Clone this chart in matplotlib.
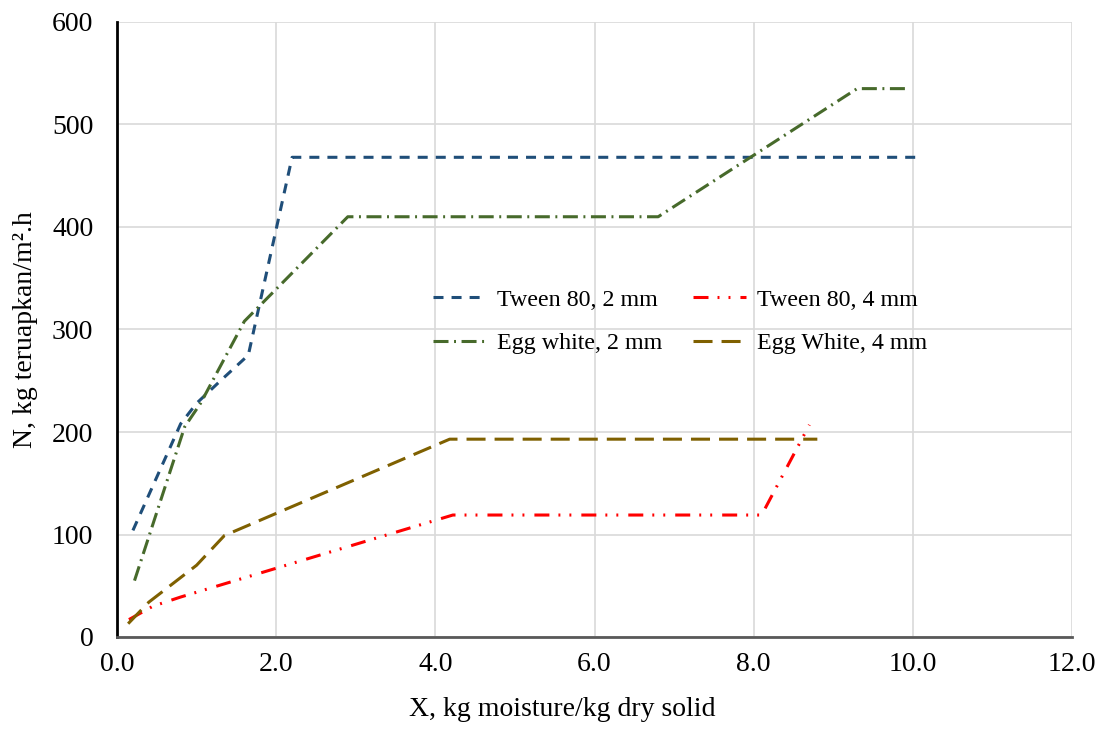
import matplotlib
matplotlib.use("Agg")
import matplotlib.pyplot as plt

plt.rcParams['font.family'] = ['Liberation Serif', 'DejaVu Serif']
plt.rcParams['lines.scale_dashes'] = False

# data
x_t2 = [0.2, 0.8, 1.0, 1.3, 1.65, 2.2, 10.1]
n_t2 = [104, 208, 228, 250, 275, 468, 468]

x_t4 = [0.15, 0.45, 0.8, 4.22, 8.1, 8.7]
n_t4 = [17, 30, 39, 119, 119, 207]

x_e2 = [0.22, 0.85, 1.05, 1.6, 2.9, 6.8, 9.3, 9.95]
n_e2 = [55, 205, 228, 308, 410, 410, 535, 535]

x_e4 = [0.14, 0.4, 1.0, 1.35, 4.18, 8.8]
n_e4 = [13, 34, 70, 99, 193, 193]

labels = ["Tween 80, 2 mm", "Tween 80, 4 mm", "Egg white, 2 mm", "Egg White, 4 mm"]
xticks = [0, 2, 4, 6, 8, 10, 12]
yticks = [0, 100, 200, 300, 400, 500, 600]

fig = plt.figure(figsize=(11.02, 7.29), dpi=100)
ax = fig.add_axes([117/1102, 92/729, 955/1102, 615/729])

lw = 2.2
l1, = ax.plot(x_t2, n_t2, color='#1F4E79', lw=lw, dashes=(7.2, 5.8), label=labels[0])
l2, = ax.plot(x_t4, n_t4, color='#FF0000', lw=lw, dashes=(10.8, 6.5, 1.4, 6.5, 1.4, 7.2), label=labels[1])
l3, = ax.plot(x_e2, n_e2, color='#476A2B', lw=lw, dashes=(10.8, 4, 1.4, 4), label=labels[2])
l4, = ax.plot(x_e4, n_e4, color='#7F6000', lw=lw, dashes=(13.7, 6.5), label=labels[3])

ax.set_xlim(0, 12)
ax.set_ylim(0, 600)
ax.set_xticks(xticks)
ax.set_xticklabels([f"{v:.1f}" for v in xticks])
ax.set_yticks(yticks)
ax.grid(True, color='#d9d9d9', lw=1.2)
ax.set_axisbelow(True)
for s in ['top', 'right']:
    ax.spines[s].set_visible(False)
ax.spines['left'].set_color('black')
ax.spines['left'].set_linewidth(2.0)
ax.spines['bottom'].set_color('#595959')
ax.spines['bottom'].set_linewidth(2.0)
ax.tick_params(axis='both', length=0, labelsize=20)
ax.tick_params(axis='y', pad=17)
ax.tick_params(axis='x', pad=11)

ax.set_xlabel("X, kg moisture/kg dry solid", fontsize=20)
ax.xaxis.set_label_coords(0.466, -0.098)
ax.set_ylabel("N, kg teruapkan/m².h", fontsize=20)
ax.yaxis.set_label_coords(-0.083, 0.5)

# row order: Tween 2 | Tween 4 / Egg 2 | Egg 4
ax.legend(handles=[l1, l3, l2, l4], ncol=2, frameon=False, fontsize=17.3,
          loc='upper left', bbox_to_anchor=(433/1102, 1 - 289/729),
          bbox_transform=fig.transFigure, borderpad=0, borderaxespad=0,
          handlelength=2.2, handletextpad=0.45, columnspacing=1.3,
          labelspacing=0.9)

fig.savefig("out.png", dpi=100)
